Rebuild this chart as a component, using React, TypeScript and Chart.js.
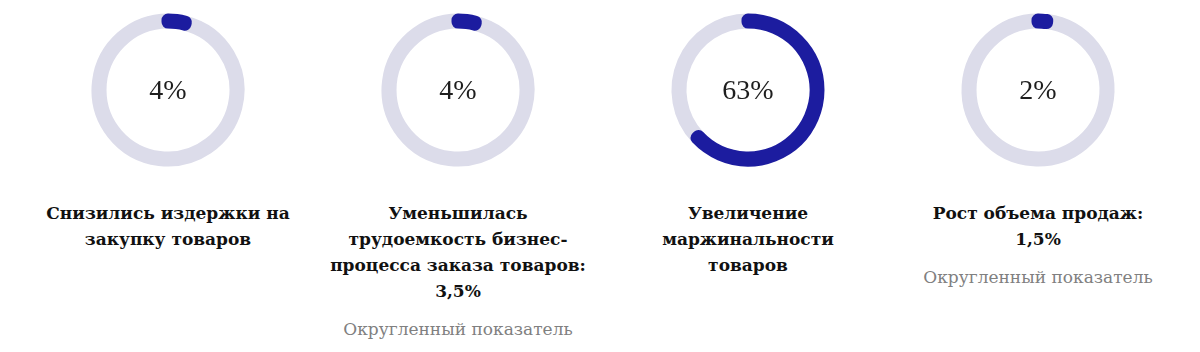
import React, { useEffect, useRef } from 'react';
import { Chart, registerables } from 'chart.js';

Chart.register(...registerables);

// ---- data ----
const values: number[] = [4, 4, 63, 2];
const centerLabels: string[] = ['4%', '4%', '63%', '2%'];
const captionLines: string[][] = [
  ['Снизились издержки на', 'закупку товаров'],
  ['Уменьшилась', 'трудоемкость бизнес-', 'процесса заказа товаров:', '3,5%'],
  ['Увеличение', 'маржинальности', 'товаров'],
  ['Рост объема продаж:', '1,5%'],
];
const notes: string[] = ['', 'Округленный показатель', '', 'Округленный показатель'];

// ---- styles ----
const BLUE = '#1c1c9f';
const TRACK = '#dcdcea';

function Ring({ value }: { value: number }) {
  const ref = useRef<HTMLCanvasElement | null>(null);
  useEffect(() => {
    if (!ref.current) return;
    const chart = new Chart(ref.current, {
      type: 'doughnut',
      data: {
        labels: ['rest', 'value'],
        datasets: [
          {
            data: [100 - value, value],
            backgroundColor: [TRACK, BLUE],
            borderColor: [TRACK, BLUE],
            borderWidth: 13,
            hoverBorderWidth: 13,
            borderJoinStyle: 'round',
            hoverOffset: 0,
          } as any,
        ],
      },
      options: {
        animation: false,
        responsive: false,
        events: [],
        rotation: value * 3.6,
        radius: 70,
        cutout: '97.1%',
        layout: { padding: 0 },
        plugins: { legend: { display: false }, tooltip: { enabled: false } },
      } as any,
    });
    return () => chart.destroy();
  }, [value]);
  return (
    <canvas
      ref={ref}
      width={160}
      height={160}
      style={{ display: 'block', width: 160, height: 160 }}
    />
  );
}

export default function App() {
  return (
    <div style={{ display: 'flex', paddingLeft: 15 }}>
      {values.map((v, i) => (
        <div
          key={i}
          style={{
            width: 290,
            flex: '0 0 290px',
            display: 'flex',
            flexDirection: 'column',
            alignItems: 'center',
          }}
        >
          <div style={{ position: 'relative', width: 160, height: 160, marginTop: 2 }}>
            <Ring value={v} />
            <div
              style={{
                position: 'absolute',
                left: 0,
                top: 0,
                width: 160,
                height: 160,
                lineHeight: '160px',
                textAlign: 'center',
                fontFamily: '"Liberation Serif", serif',
                fontSize: 28,
                color: '#1e1e1e',
              }}
            >
              {centerLabels[i]}
            </div>
          </div>
          <div
            style={{
              marginTop: 30,
              textAlign: 'center',
              fontFamily: '"DejaVu Serif", serif',
              fontWeight: 'bold',
              fontSize: 17,
              lineHeight: '26px',
              color: '#111',
              whiteSpace: 'nowrap',
            }}
          >
            {captionLines[i].map((line, j) => (
              <div key={j}>{line}</div>
            ))}
          </div>
          {notes[i] ? (
            <div
              style={{
                marginTop: 12,
                textAlign: 'center',
                fontFamily: '"DejaVu Serif", serif',
                fontSize: 17,
                lineHeight: '26px',
                color: '#808080',
                whiteSpace: 'nowrap',
              }}
            >
              {notes[i]}
            </div>
          ) : null}
        </div>
      ))}
    </div>
  );
}
